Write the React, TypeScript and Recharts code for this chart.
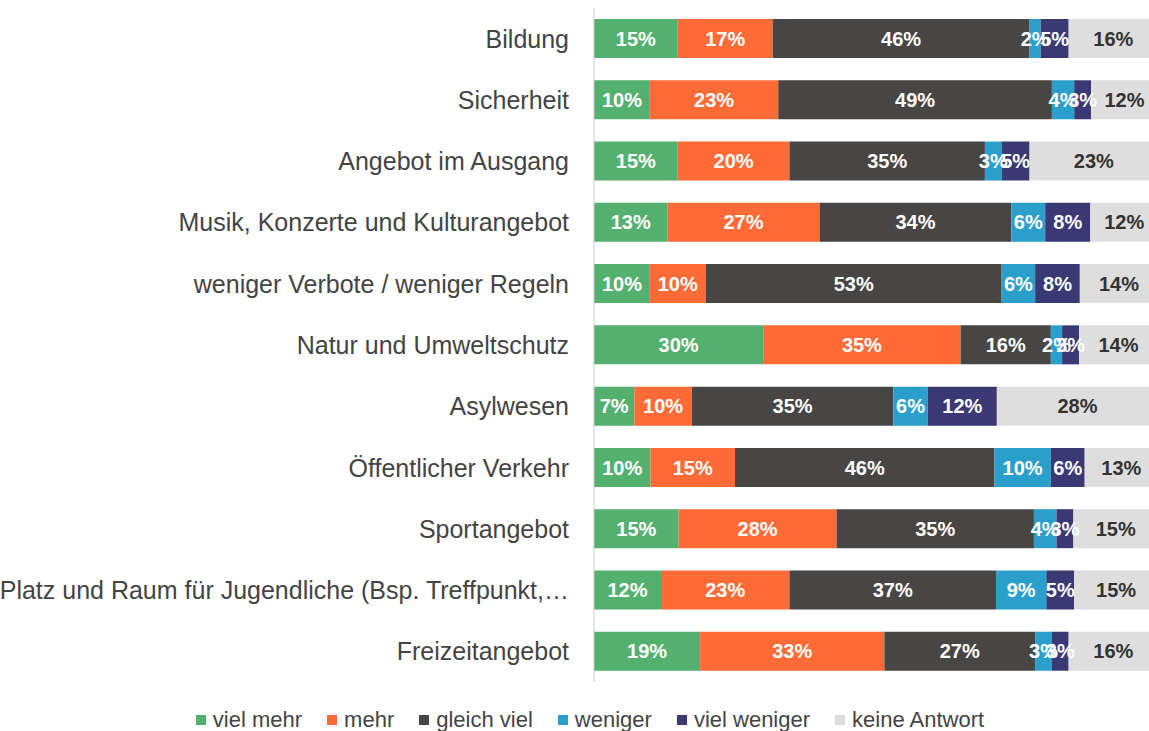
import { BarChart, Bar, XAxis, YAxis, Legend, LabelList } from 'recharts'

const categories = [
  'Bildung',
  'Sicherheit',
  'Angebot im Ausgang',
  'Musik, Konzerte und Kulturangebot',
  'weniger Verbote / weniger Regeln',
  'Natur und Umweltschutz',
  'Asylwesen',
  'Öffentlicher Verkehr',
  'Sportangebot',
  'Platz und Raum für Jugendliche (Bsp. Treffpunkt,…',
  'Freizeitangebot',
]

const vielMehr = [15, 10, 15, 13, 10, 30, 7, 10, 15, 12, 19]
const mehr = [17, 23, 20, 27, 10, 35, 10, 15, 28, 23, 33]
const gleichViel = [46, 49, 35, 34, 53, 16, 35, 46, 35, 37, 27]
const weniger = [2, 4, 3, 6, 6, 2, 6, 10, 4, 9, 3]
const vielWeniger = [5, 3, 5, 8, 8, 3, 12, 6, 3, 5, 3]
const keineAntwort = [16, 12, 23, 12, 14, 14, 28, 13, 15, 15, 16]

const series = [
  { key: 'vielMehr', name: 'viel mehr', color: '#53B06E', text: '#fff' },
  { key: 'mehr', name: 'mehr', color: '#FF6B36', text: '#fff' },
  { key: 'gleichViel', name: 'gleich viel', color: '#474645', text: '#fff' },
  { key: 'weniger', name: 'weniger', color: '#2B9FCB', text: '#fff' },
  { key: 'vielWeniger', name: 'viel weniger', color: '#3A3973', text: '#fff' },
  { key: 'keineAntwort', name: 'keine Antwort', color: '#DEDEDE', text: '#333' },
]

const data = categories.map((name, i) => ({
  name,
  vielMehr: vielMehr[i],
  mehr: mehr[i],
  gleichViel: gleichViel[i],
  weniger: weniger[i],
  vielWeniger: vielWeniger[i],
  keineAntwort: keineAntwort[i],
}))

const FONT = '"Liberation Sans", Arial, Helvetica, sans-serif'

function CategoryTick({ x, y, payload }: any) {
  return (
    <text x={x} y={y} textAnchor="end" dominantBaseline="central" fontSize={25} fill="#444" fontFamily={FONT}>
      {payload.value}
    </text>
  )
}

function LegendContent() {
  return (
    <div
      style={{
        height: 49,
        boxSizing: 'border-box',
        paddingTop: 27,
        paddingLeft: 22,
        display: 'flex',
        justifyContent: 'center',
        alignItems: 'center',
        gap: 25,
        fontFamily: FONT,
        fontSize: 22,
        lineHeight: '22px',
        color: '#444',
      }}
    >
      {series.map(s => (
        <div key={s.key} style={{ display: 'flex', alignItems: 'center', gap: 7 }}>
          <div style={{ width: 10, height: 10, backgroundColor: s.color }} />
          <span>{s.name}</span>
        </div>
      ))}
    </div>
  )
}

export default function App() {
  return (
    <div style={{ position: 'absolute', left: 0, top: 0, width: 1149, height: 731, overflow: 'hidden', background: '#fff' }}>
      <BarChart
        width={1158}
        height={731}
        data={data}
        layout="vertical"
        stackOffset="expand"
        margin={{ top: 8, right: 0, bottom: 0, left: 0 }}
      >
        <XAxis type="number" hide domain={[0, 1]} />
        <YAxis
          type="category"
          dataKey="name"
          width={594}
          axisLine={{ stroke: '#ccc' }}
          tickLine={false}
          tickSize={0}
          tickMargin={25}
          interval={0}
          tick={<CategoryTick />}
        />
        <Legend verticalAlign="bottom" content={<LegendContent />} />
        {series.map(s => (
          <Bar key={s.key} dataKey={s.key} name={s.name} stackId="a" fill={s.color} barSize={39} isAnimationActive={false}>
            <LabelList
              dataKey={s.key}
              position="center"
              formatter={(v: any) => `${v}%`}
              fill={s.text}
              fontSize={20}
              fontWeight="bold"
              fontFamily={FONT}
            />
          </Bar>
        ))}
      </BarChart>
    </div>
  )
}
